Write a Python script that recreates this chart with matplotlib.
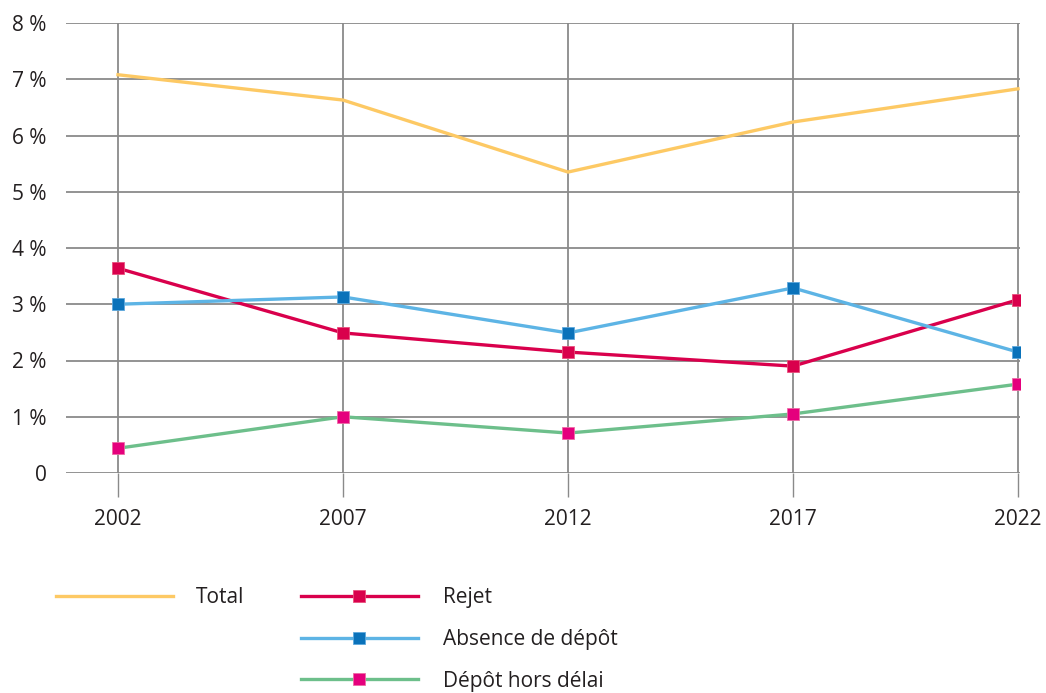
import matplotlib
matplotlib.use("Agg")
import matplotlib.pyplot as plt

plt.rcParams['font.family'] = ['Open Sans', 'DejaVu Sans']

years = [2002, 2007, 2012, 2017, 2022]
total = [7.08, 6.63, 5.35, 6.24, 6.83]
rejet = [3.64, 2.49, 2.15, 1.90, 3.08]
absence = [3.00, 3.13, 2.49, 3.29, 2.15]
hors_delai = [0.44, 1.00, 0.71, 1.05, 1.58]

y_ticks = [0, 1, 2, 3, 4, 5, 6, 7, 8]
y_labels = ['0'] + [f'{v} %' for v in y_ticks[1:]]

fig = plt.figure(figsize=(10.46, 6.93), dpi=100)
ax = fig.add_axes([66/1046, (693-473)/693, (1020-66)/1046, 450/693])

grid_col = '#8a8a8a'
for v in y_ticks:
    ax.axhline(v, color=grid_col, lw=1.3, zorder=1)
for yr in years:
    ax.axvline(yr, color=grid_col, lw=1.3, zorder=1)

ax.plot(years, total, color='#fdc964', lw=2.4, zorder=3, label='Total')
ax.plot(years, rejet, color='#d9004c', lw=2.4, marker='s', ms=8.5,
        mfc='#d9004c', mec='#e8507d', mew=0.6, zorder=4, label='Rejet')
ax.plot(years, absence, color='#5db4e5', lw=2.4, marker='s', ms=8.5,
        mfc='#0a72ba', mec='#5da8dc', mew=0.6, zorder=4, label='Absence de dépôt')
ax.plot(years, hors_delai, color='#6dbf8b', lw=2.4, marker='s', ms=8.5,
        mfc='#e5007d', mec='#ee6aa5', mew=0.6, zorder=4, label='Dépôt hors délai')

ax.set_xlim(2002 - 52/45, 2022 + 2/45)
ax.set_ylim(0, 8)
ax.set_yticks(y_ticks)
ax.set_yticklabels(y_labels)
ax.set_xticks(years)
ax.set_xticklabels([str(y) for y in years])
ax.tick_params(axis='y', length=0, pad=14, labelsize=15, labelcolor='#231f20')
ax.tick_params(axis='x', length=17, width=1.0, color=grid_col, pad=9,
               labelsize=15, labelcolor='#231f20')
for s in ax.spines.values():
    s.set_visible(False)

h, l = ax.get_legend_handles_labels()
fig.legend([h[0]], [l[0]], loc='upper left', bbox_to_anchor=(56/1046, 1 - 587/693),
           frameon=False, fontsize=15, handlelength=5.6, handletextpad=1.1,
           borderpad=0, borderaxespad=0, labelcolor='#231f20')
fig.legend(h[1:], l[1:], loc='upper left', bbox_to_anchor=(301/1046, 1 - 587/693),
           frameon=False, fontsize=15, handlelength=5.6, handletextpad=1.2,
           labelspacing=1.0, borderpad=0, borderaxespad=0, labelcolor='#231f20')

fig.savefig('out.png', dpi=100)
